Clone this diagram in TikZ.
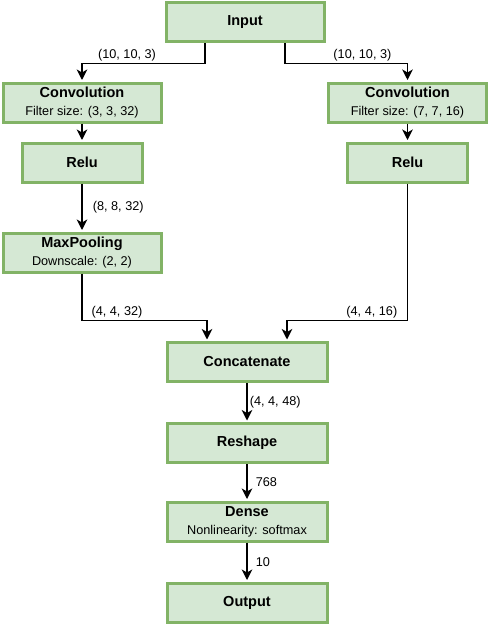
\documentclass[tikz,border=0pt]{standalone}
\usepackage{fontspec}
\setmainfont{Liberation Sans}
\usetikzlibrary{arrows.meta}
\definecolor{layerfill}{HTML}{D5E8D4}
\definecolor{layerline}{HTML}{82B366}
\newcommand{\ltitle}[1]{{\fontsize{14.5}{18}\selectfont\bfseries #1}}

\begin{document}
\begin{tikzpicture}[x=1pt,y=-1pt,
    layer/.style={rectangle,fill=layerfill,draw=layerline,line width=3pt,minimum width=158pt,minimum height=39pt,inner sep=0pt,align=center,font=\fontsize{12.7}{18}\selectfont},
    flow/.style={line width=1.6pt,-{Stealth[length=10.5pt,width=10.5pt,inset=3pt]},shorten >=1.5pt},
    lbl/.style={font=\fontsize{12.7}{15}\selectfont,inner sep=2pt}]
    \useasboundingbox (0,0) rectangle (489,624);

    \node[layer] (inp) at (245,22) {\ltitle{Input}};
    \node[layer] (convL) at (82,102.5) {\ltitle{Convolution}\\Filter size: (3, 3, 32)};
    \node[layer] (convR) at (407.5,102.5) {\ltitle{Convolution}\\Filter size: (7, 7, 16)};
    \node[layer,minimum width=120pt] (reluL) at (82,162.5) {\ltitle{Relu}};
    \node[layer,minimum width=120pt] (reluR) at (407.5,162.5) {\ltitle{Relu}};
    \node[layer] (pool) at (82,252.5) {\ltitle{MaxPooling}\\Downscale: (2, 2)};
    \node[layer,minimum width=160pt] (concat) at (247,362) {\ltitle{Concatenate}};
    \node[layer,minimum width=160pt] (reshape) at (247,443) {\ltitle{Reshape}};
    \node[layer,minimum width=160pt] (dense) at (247,521.5) {\ltitle{Dense}\\Nonlinearity: softmax};
    \node[layer,minimum width=160pt] (out) at (247,602.5) {\ltitle{Output}};

    \draw[flow] ([xshift=-40pt]inp.south) -- ++(0,20.5) -| node[lbl,pos=0.317,above] {(10, 10, 3)} (convL.north);
    \draw[flow] ([xshift=40pt]inp.south) -- ++(0,20.5) -| node[lbl,pos=0.316,above] {(10, 10, 3)} (convR.north);
    \draw[flow] (convL) -- (reluL);
    \draw[flow] (convR) -- (reluR);
    \draw[flow] (reluL) -- node[lbl,right,xshift=8pt] {(8, 8, 32)} (pool);
    \draw[flow] (pool.south) |- node[lbl,pos=0.64,above] {(4, 4, 32)} ([xshift=-40pt,yshift=20.5pt]concat.north) -- ([xshift=-40pt]concat.north);
    \draw[flow] (reluR.south) |- node[lbl,pos=0.648,above] {(4, 4, 16)} ([xshift=40pt,yshift=20.5pt]concat.north) -- ([xshift=40pt]concat.north);
    \draw[flow] (concat) -- node[lbl,right,xshift=0pt] {(4, 4, 48)} (reshape);
    \draw[flow] (reshape) -- node[lbl,right,xshift=6pt] {768} (dense);
    \draw[flow] (dense) -- node[lbl,right,xshift=6pt] {10} (out);
\end{tikzpicture}
\end{document}
